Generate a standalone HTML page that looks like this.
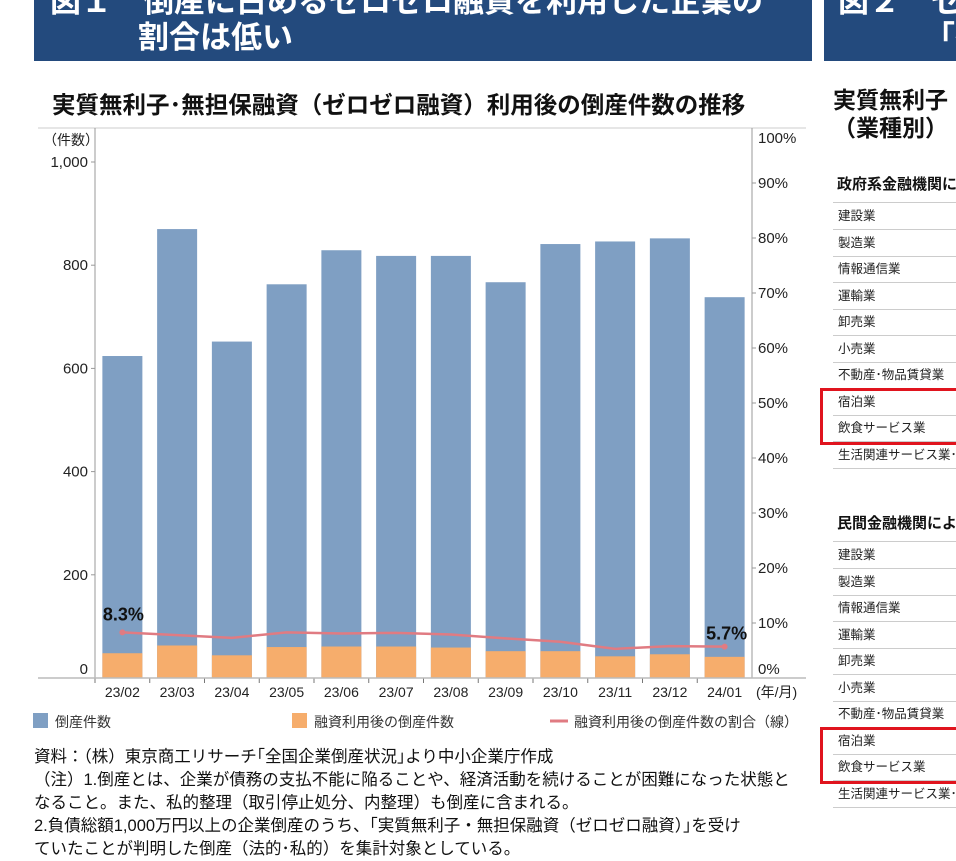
<!DOCTYPE html>
<html><head><meta charset="utf-8">
<style>
body{margin:0;width:956px;height:851px;overflow:hidden;background:#fff;font-family:"Liberation Sans","Noto Sans CJK JP",sans-serif;position:relative}
.abs{position:absolute;white-space:nowrap}
.hdr{background:#234a7d;color:#fff;font-weight:bold;font-size:31px}
.row{position:absolute;left:833px;width:140px;height:26px;border-bottom:1px solid #ccc;font-size:12.5px;line-height:26px;color:#222}
.note{font-size:16.5px;color:#111}
</style></head><body>
<div class="abs hdr" style="left:34px;top:0;width:778px;height:61px;overflow:hidden">
<div class="abs" style="left:16px;top:-24px">図１　倒産に占めるゼロゼロ融資を利用した企業の</div>
<div class="abs" style="left:104px;top:12px">割合は低い</div></div>
<div class="abs hdr" style="left:824px;top:0;width:140px;height:61px;overflow:hidden">
<div class="abs" style="left:14px;top:-24px">図２　ゼ</div>
<div class="abs" style="left:100px;top:12px">「宿</div></div>
<div class="abs" style="left:52px;top:86px;font-size:23.5px;font-weight:bold;color:#111">実質無利子･無担保融資（ゼロゼロ融資）利用後の倒産件数の推移</div>
<div class="abs" style="left:833px;top:86px;font-size:23px;font-weight:bold;line-height:28px;color:#111">実質無利子<br>（業種別）</div>
<svg class="abs" style="left:0;top:0" width="820" height="740" id="chart"></svg>
<div class="abs note" style="left:34px;top:746px;line-height:23px">資料：（株）東京商工リサーチ｢全国企業倒産状況｣より中小企業庁作成<br>（注）1.倒産とは、企業が債務の支払不能に陥ることや、経済活動を続けることが困難になった状態と<br>なること。また、私的整理（取引停止処分、内整理）も倒産に含まれる。<br>2.負債総額1,000万円以上の企業倒産のうち、｢実質無利子・無担保融資（ゼロゼロ融資）｣を受け<br>ていたことが判明した倒産（法的･私的）を集計対象としている。</div>
<div id="panel"></div>
<script>
const categories=["23/02","23/03","23/04","23/05","23/06","23/07","23/08","23/09","23/10","23/11","23/12","24/01"];
const totalBankruptcies=[624,870,652,763,829,818,818,767,841,846,852,738];
const afterLoanBankruptcies=[48,63,44,60,61,61,59,52,52,42,46,41];
const ratioPct=[8.3,7.8,7.3,8.3,8.1,8.2,7.9,7.2,6.6,5.3,5.8,5.7];
const leftTicks=[0,200,400,600,800,1000];
const leftTickLabels=["0","200","400","600","800","1,000"];
const rightTicks=[0,10,20,30,40,50,60,70,80,90,100];
const NS="http://www.w3.org/2000/svg";
const svg=document.getElementById('chart');
const y0=678,plotTop=162,x0=95,x1=752;
const yL=v=>y0-v*(y0-plotTop)/1000;
const yR=p=>y0-p*(y0-128)/100;
const step=(x1-x0)/categories.length;
const xC=i=>x0+step*(i+0.5);
function el(t,a,txt){const e=document.createElementNS(NS,t);for(const k in a)e.setAttribute(k,a[k]);if(txt!=null)e.textContent=txt;svg.appendChild(e);return e;}
let e;
e=el('line',{x1:38,y1:128,x2:806,y2:128,stroke:'#ccc'});


e=el('line',{x1:x0,y1:128,x2:x0,y2:y0,stroke:'#999'});


e=el('line',{x1:x1,y1:128,x2:x1,y2:y0,stroke:'#999'});


e=el('text',{x:43,y:145,'font-size':14,fill:'#222'},'（件数）');


leftTicks.forEach((v,i)=>{
 const y=yL(v);
 e=el('text',{x:88,y:(v===0?y-4:y+5),'text-anchor':'end','font-size':15,fill:'#222'},leftTickLabels[i]);
 
 
 e=el('line',{x1:x0-4,y1:y,x2:x0,y2:y,stroke:'#999'});
 
 
});
rightTicks.forEach(p=>{
 const y=yR(p);
 e=el('text',{x:758,y:(p===0?y-4:(p===100?y+15:y+5)),'font-size':15,fill:'#222'},p+'%');
 
 
 if(p>0&&p<100){e=el('line',{x1:x1,y1:y,x2:x1+4,y2:y,stroke:'#999'});
 
 }
});
categories.forEach((c,i)=>{
 const cx=xC(i),w=40;
 e=el('rect',{x:cx-w/2,y:yL(totalBankruptcies[i]),width:w,height:y0-yL(totalBankruptcies[i]),fill:'#7f9fc3'});
 
 
 e=el('rect',{x:cx-w/2,y:yL(afterLoanBankruptcies[i]),width:w,height:y0-yL(afterLoanBankruptcies[i]),fill:'#f6ad6c'});
 
 
 e=el('text',{x:cx,y:697,'text-anchor':'middle','font-size':14,fill:'#222'},c);
 
 
 e=el('line',{x1:x0+step*i,y1:y0,x2:x0+step*i,y2:y0+5,stroke:'#777'});
 
 
});
e=el('line',{x1:38,y1:y0,x2:806,y2:y0,stroke:'#bbb','stroke-width':1.5});


e=el('text',{x:756,y:697,'font-size':14,fill:'#222'},'(年/月)');


const pts=ratioPct.map((p,i)=>xC(i)+','+yR(p)).join(' ');
e=el('polyline',{points:pts,fill:'none',stroke:'#e07b82','stroke-width':2.5});


[0,categories.length-1].forEach(i=>{
 e=el('circle',{cx:xC(i),cy:yR(ratioPct[i]),r:3,fill:'#e07b82'});
 
 
});
e=el('text',{x:xC(0)+1,y:yR(ratioPct[0])-12,'text-anchor':'middle','font-size':18,'font-weight':'bold',fill:'#111'},ratioPct[0]+'%');


e=el('text',{x:xC(11)+2,y:yR(ratioPct[11])-7,'text-anchor':'middle','font-size':18,'font-weight':'bold',fill:'#111'},ratioPct[11]+'%');


e=el('rect',{x:33,y:713,width:15,height:15,fill:'#7f9fc3'});


e=el('text',{x:55,y:727,'font-size':14,fill:'#333'},'倒産件数');


e=el('rect',{x:292,y:713,width:15,height:15,fill:'#f6ad6c'});


e=el('text',{x:314,y:727,'font-size':14,fill:'#333'},'融資利用後の倒産件数');


e=el('line',{x1:550,y1:721,x2:568,y2:721,stroke:'#e07b82','stroke-width':3});


e=el('text',{x:574,y:727,'font-size':14,fill:'#333'},'融資利用後の倒産件数の割合（線）');


const rows=["建設業","製造業","情報通信業","運輸業","卸売業","小売業","不動産･物品賃貸業","宿泊業","飲食サービス業","生活関連サービス業･娯"];
const panel=document.getElementById('panel');
function section(title,ty,top){
 const t=document.createElement('div');t.className='abs';t.style.cssText=`left:837px;top:${ty}px;font-size:15px;font-weight:bold;color:#111`;t.textContent=title;
 
 
 panel.appendChild(t);
 const l=document.createElement('div');l.className='abs';l.style.cssText=`left:833px;top:${top}px;width:130px;border-top:1px solid #ccc`;panel.appendChild(l);
 rows.forEach((r,i)=>{const d=document.createElement('div');d.className='row';d.style.top=(top+1+i*26.5)+'px';d.style.paddingLeft='5px';d.textContent=r;
 
 
 panel.appendChild(d);});
 const b=document.createElement('div');b.className='abs';b.style.cssText=`left:820px;top:${top+7*26.5}px;width:150px;height:51px;border:3px solid #e0141e`;
 
 
 panel.appendChild(b);
}
section('政府系金融機関による',173,202);
section('民間金融機関による',512,541);
</script>
</body></html>
